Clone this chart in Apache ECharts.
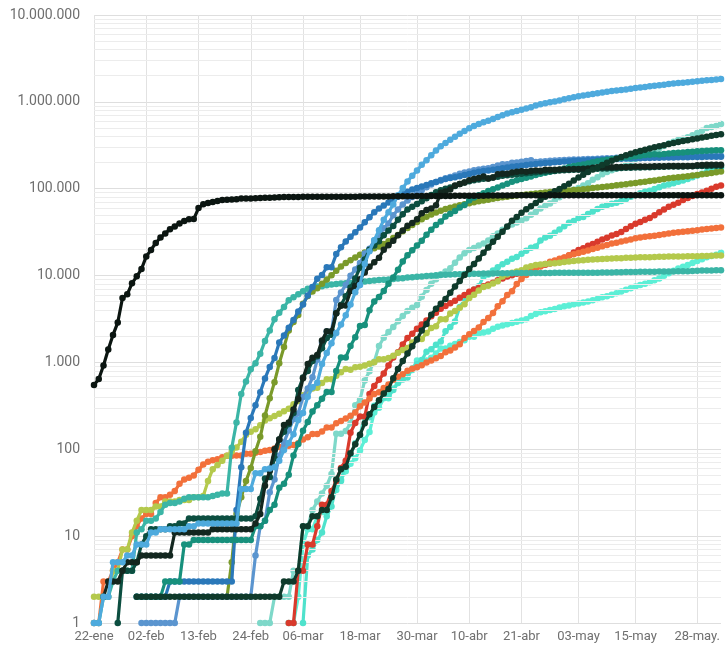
<!DOCTYPE html>
<html>
<head>
<meta charset="utf-8">
<script src="https://cdn.jsdelivr.net/npm/echarts@6/dist/echarts.min.js"></script>
<style>
  html, body { margin: 0; padding: 0; background: #ffffff; }
  #chart { width: 726px; height: 646px; }
</style>
</head>
<body>
<div id="chart"></div>
<script>
// Cumulative confirmed COVID-19 cases, log scale, 22-ene .. 02-jun 2020

const firstDay = Date.UTC(2020, 0, 22);
const dayCount = 133;
const monthAbbr = ['ene', 'feb', 'mar', 'abr', 'may', 'jun', 'jul', 'ago', 'sep', 'oct', 'nov', 'dic'];

// Labelled dates on the horizontal axis
const tickLabels = ['22-ene', '02-feb', '13-feb', '24-feb', '06-mar', '18-mar',
  '30-mar', '10-abr', '21-abr', '03-may', '15-may', '28-may.'];

// Labelled powers of ten on the vertical axis
const yTicks = [1, 10, 100, 1000, 10000, 100000, 1000000, 10000000];

// Each country: first date with cases, then one cumulative value per day
const chinaStart = '22-ene';
const china = [548, 643, 920, 1406, 2075, 2877, 5509, 6087, 8141, 9802,
  11891, 16630, 19716, 23707, 27440, 30587, 34110, 36814, 39829, 42354, 44386, 44759, 59895, 66358, 68413, 70513, 72434, 74211, 74619, 75077, 75550, 77001, 77022, 77241, 77754, 78166, 78600, 78928, 79356,
  79932, 80136, 80261, 80386, 80537, 80690, 80770, 80823, 80860, 80887, 80921, 80932, 80945, 80977, 81003, 81033, 81058, 81102, 81156, 81250, 81305, 81435, 81498, 81591, 81661, 81782, 81897, 81999, 82122, 82198, 82279,
  82361, 82432, 82511, 82543, 82602, 82665, 82718, 82809, 82883, 82941, 82987, 83134, 83213, 83306, 83356, 83403, 83760, 83787, 83805, 83817, 83853, 83868, 83884, 83899, 83909, 83912, 83918, 83940, 83944, 83956,
  83959, 83959, 83964, 83966, 83968, 83970, 83975, 83976, 83990, 84010, 84011, 84018, 84024, 84029, 84038, 84044, 84054, 84063, 84063, 84063, 84081, 84084, 84095, 84102, 84103, 84106, 84106, 84106, 84123, 84128, 84146,
  84154, 84159];

const usaStart = '22-ene';
const usa = [1, 1, 2, 2, 5, 5, 5, 6, 6, 8,
  8, 8, 11, 11, 12, 12, 12, 12, 12, 12, 13, 13, 14, 14, 14, 14, 14, 14, 14, 14, 14, 35, 35, 35, 53, 53, 59, 60, 62,
  74, 98, 118, 149, 217, 262, 402, 518, 583, 959, 1281, 1663, 2179, 2726, 3499, 4632, 6421, 7786, 13680, 19101, 25493, 33276, 43847, 53740, 65778, 83836, 101657, 121465, 140909, 161831, 188172,
  213242, 243622, 275367, 308650, 336802, 366317, 397121, 428654, 462780, 496535, 526396, 555313, 580619, 607670, 636350, 667592, 699706, 732197, 759086, 784326, 811865, 840351, 869170, 905358, 938154, 965785, 988197, 1012582, 1039909, 1069424,
  1103461, 1132539, 1158040, 1180375, 1204351, 1229331, 1257023, 1283929, 1309550, 1329260, 1347881, 1369376, 1390406, 1417774, 1442824, 1467820, 1486757, 1508308, 1528568, 1551853, 1577147, 1600937, 1622612, 1643499, 1662302, 1680913, 1699176, 1721750, 1746019, 1770165, 1790191,
  1811020, 1831821];

const japanStart = '22-ene';
const japan = [2, 2, 2, 2, 4, 4, 7, 7, 11, 15,
  20, 20, 20, 22, 22, 25, 25, 25, 26, 26, 26, 28, 28, 29, 43, 59, 66, 74, 84, 94, 105, 122, 147, 159, 170, 189, 214, 228, 241,
  256, 274, 293, 331, 360, 420, 461, 502, 511, 581, 639, 639, 701, 773, 839, 825, 878, 889, 924, 963, 1007, 1086, 1086, 1128, 1193, 1291, 1387, 1468, 1693, 1866, 1866,
  2178, 2495, 2617, 3139, 3139, 3654, 3906, 4257, 4667, 5530, 6005, 6748, 7370, 7645, 8100, 8626, 9787, 10296, 10797, 11135, 11512, 12368, 12829, 13231, 13441, 13614, 13736, 13895, 14088, 14305,
  14483, 14672, 14877, 15057, 15231, 15354, 15463, 15547, 15649, 15747, 15798, 15874, 16024, 16079, 16193, 16237, 16285, 16305, 16367, 16424, 16513, 16536, 16550, 16581, 16623, 16651, 16683, 16719, 16804, 16850, 16930,
  16986, 17000];

const koreaStart = '22-ene';
const korea = [1, 1, 2, 2, 3, 4, 4, 4, 4, 11,
  12, 15, 15, 16, 19, 23, 24, 24, 25, 27, 28, 28, 28, 28, 28, 29, 30, 31, 31, 104, 204, 433, 602, 833, 977, 1261, 1766, 2337, 3150,
  3736, 4335, 5186, 5621, 6088, 6593, 7041, 7314, 7478, 7513, 7755, 7869, 7979, 8086, 8162, 8236, 8320, 8413, 8565, 8652, 8799, 8897, 8961, 9037, 9137, 9241, 9332, 9478, 9583, 9661, 9786,
  9887, 9976, 10062, 10156, 10237, 10284, 10331, 10384, 10423, 10450, 10480, 10512, 10537, 10564, 10591, 10613, 10635, 10653, 10661, 10674, 10683, 10694, 10702, 10708, 10718, 10728, 10738, 10752, 10761, 10765,
  10774, 10780, 10793, 10801, 10804, 10806, 10810, 10822, 10840, 10874, 10909, 10936, 10962, 10991, 11018, 11037, 11050, 11065, 11078, 11110, 11122, 11142, 11165, 11190, 11206, 11225, 11265, 11344, 11402, 11441, 11468,
  11503, 11541];

const singaporeStart = '22-ene';
const singapore = [1, 1, 3, 3, 4, 5, 7, 7, 10, 13,
  16, 18, 18, 24, 28, 28, 30, 33, 40, 45, 47, 50, 58, 67, 72, 75, 77, 81, 84, 84, 85, 85, 89, 89, 91, 93, 96, 98, 102,
  106, 108, 110, 112, 117, 130, 138, 150, 150, 160, 178, 178, 200, 212, 226, 243, 266, 313, 345, 385, 432, 455, 509, 558, 631, 683, 732, 802, 844, 879, 926,
  1000, 1049, 1114, 1189, 1309, 1375, 1481, 1623, 1910, 2108, 2299, 2532, 2918, 3252, 3699, 4427, 5050, 5992, 6588, 8014, 9125, 10141, 11178, 12075, 12693, 13624, 14423, 14951, 15641, 16169,
  17101, 17548, 18205, 18778, 19410, 20198, 20939, 21707, 22460, 23336, 23822, 24671, 25346, 26098, 26891, 27356, 28038, 28343, 28794, 29364, 29812, 30426, 31068, 31616, 31960, 32343, 32876, 33249, 33860, 34366, 34884,
  35292, 35836];

const franceStart = '24-ene';
const france = [2, 3, 3, 3, 4, 5, 5, 5,
  6, 6, 6, 6, 6, 6, 6, 11, 11, 11, 11, 11, 11, 11, 11, 12, 12, 12, 12, 12, 12, 12, 12, 12, 14, 18, 38, 57, 100,
  130, 191, 204, 288, 380, 656, 957, 1134, 1217, 1792, 2289, 2289, 3672, 4480, 4513, 6650, 7652, 9043, 10871, 12612, 14282, 16018, 19856, 22304, 25233, 29155, 32964, 37575, 40174, 44550, 52128,
  56989, 59105, 64338, 89953, 92839, 98010, 109069, 112950, 117749, 124869, 129654, 132591, 137875, 131361, 134582, 147091, 149130, 149149, 154188, 156480, 159297, 156921, 159952, 161644, 161488, 165093, 165764, 165842, 166543, 167299,
  167305, 168518, 168925, 169583, 170694, 174224, 174918, 176202, 176782, 177094, 177547, 178349, 178184, 178994, 179630, 179630, 179693, 180051, 180933, 181700, 181951, 182036, 182709, 182847, 182913, 183067, 182722, 186364, 186924, 188752, 188450,
  189009, 189220];

const germanyStart = '27-ene';
const germany = [1, 4, 4, 4, 5,
  8, 10, 12, 12, 12, 12, 13, 13, 14, 14, 16, 16, 16, 16, 16, 16, 16, 16, 16, 16, 16, 16, 16, 16, 17, 27, 46, 48, 79,
  130, 159, 196, 262, 482, 670, 799, 1040, 1176, 1457, 1908, 2078, 3675, 4585, 5795, 7272, 9257, 12327, 15320, 19848, 22213, 24873, 29056, 32986, 37323, 43938, 50871, 57695, 62095, 66885, 71808,
  77872, 84794, 91159, 96092, 100123, 103374, 107663, 113296, 118181, 122171, 124908, 127854, 130072, 131359, 134753, 137698, 141397, 143342, 145184, 147065, 148291, 150648, 153129, 154999, 156513, 157770, 158758, 159912, 161539, 163009,
  164077, 164967, 165664, 166152, 167007, 168162, 169430, 170588, 171324, 171879, 172576, 173171, 174098, 174478, 175233, 175752, 176369, 176551, 177778, 178473, 179021, 179710, 179986, 180328, 180600, 181200, 181524, 182196, 182922, 183189, 183410,
  183594, 184121];

const italyStart = '31-ene';
const italy = [2,
  2, 2, 2, 2, 2, 2, 3, 3, 3, 3, 3, 3, 3, 3, 3, 3, 3, 3, 3, 3, 20, 62, 155, 229, 322, 453, 655, 888, 1128,
  1694, 2036, 2502, 3089, 3858, 4636, 5883, 7375, 9172, 10149, 12462, 12462, 17660, 21157, 24747, 27980, 31506, 35713, 41035, 47021, 53578, 59138, 63927, 69176, 74386, 80589, 86498, 92472, 97689, 101739, 105792,
  110574, 115242, 119827, 124632, 128948, 132547, 135586, 139422, 143626, 147577, 152271, 156363, 159516, 162488, 165155, 168941, 172434, 175925, 178972, 181228, 183957, 187327, 189973, 192994, 195351, 197675, 199414, 201505, 203591, 205463,
  207428, 209328, 210717, 211938, 213013, 214457, 215858, 217185, 218268, 219070, 219814, 221216, 222104, 223096, 223885, 224760, 225435, 225886, 226699, 227364, 228006, 228658, 229327, 229858, 230158, 230555, 231139, 231732, 232248, 232664, 232997,
  233197, 233515];

const ukStart = '31-ene';
const uk = [2,
  2, 2, 2, 2, 2, 3, 3, 3, 3, 8, 8, 9, 9, 9, 9, 9, 9, 9, 9, 9, 9, 9, 9, 9, 13, 13, 15, 20, 23,
  36, 40, 51, 85, 115, 163, 206, 273, 321, 382, 456, 456, 798, 1140, 1140, 1543, 1950, 2626, 2689, 3983, 5018, 5683, 6650, 8077, 9529, 11658, 14543, 17089, 19522, 22141, 25150,
  29474, 33718, 38168, 41903, 47806, 51608, 55242, 60733, 65077, 73758, 78991, 84279, 88621, 93873, 98476, 103093, 108692, 114217, 120067, 124743, 129044, 133495, 138078, 143464, 148377, 152840, 157149, 161145, 165221, 171253,
  177454, 182260, 186599, 190584, 194990, 201101, 206715, 211364, 215260, 219183, 223060, 226463, 229705, 233151, 236711, 240161, 243695, 246406, 248818, 248293, 250908, 254195, 257154, 259559, 261184, 265227, 267240, 269127, 271222, 272826, 274762,
  276332, 277985];

const russiaStart = '31-ene';
const russia = [2,
  2, 2, 2, 2, 2, 2, 2, 2, 2, 2, 2, 2, 2, 2, 2, 2, 2, 2, 2, 2, 2, 2, 2, 2, 2, 2, 2, 2, 2,
  2, 3, 3, 3, 4, 13, 13, 17, 17, 20, 20, 28, 45, 59, 63, 90, 114, 147, 199, 253, 306, 367, 438, 495, 658, 840, 1036, 1264, 1534, 1836, 2337,
  2777, 3548, 4149, 4731, 5389, 6343, 7497, 8672, 10131, 11917, 13584, 15770, 18328, 21102, 24490, 27938, 32008, 36793, 42853, 47121, 52763, 57999, 62773, 68622, 74588, 80949, 87147, 93558, 99399, 106498,
  114431, 124054, 134687, 145268, 155370, 165929, 177160, 187859, 198676, 209688, 221344, 232243, 242271, 252245, 262843, 272043, 281752, 290678, 299941, 308705, 317554, 326448, 335882, 344481, 353427, 362342, 370680, 379051, 387623, 396575, 405843,
  414328, 423186];

const spainStart = '01-feb';
const spain = [1, 1, 1, 1, 1, 1, 1, 1, 2, 2, 2, 2, 2, 2, 2, 2, 2, 2, 2, 2, 2, 2, 2, 2, 6, 13, 15, 32, 45,
  84, 120, 165, 222, 259, 400, 500, 673, 1073, 1695, 2277, 2277, 5232, 6391, 7798, 9942, 11748, 13910, 17963, 20410, 25374, 28768, 35136, 39885, 49515, 57786, 65719, 73235, 80110, 87956, 95923,
  104118, 112065, 119199, 126168, 131646, 136675, 141942, 148220, 153222, 158273, 163027, 166831, 170099, 172541, 177644, 184948, 190839, 191726, 198674, 200210, 204178, 208389, 213024, 202990, 205905, 207634, 209465, 210773, 212917, 213435,
  215216, 216582, 217466, 218011, 219329, 220325, 221447, 222857, 223578, 224350, 227436, 228030, 228691, 229540, 230183, 230698, 230698, 231606, 232037, 232555, 233037, 234824, 235290, 235772, 235400, 236259, 236259, 237906, 238564, 239228, 239479,
  239638, 240326];

const iranStart = '19-feb';
const iran = [2, 5, 18, 28, 43, 61, 95, 139, 245, 388, 593,
  978, 1501, 2336, 2922, 3513, 4747, 5823, 6566, 7161, 8042, 9000, 10075, 11364, 12729, 13938, 14991, 16169, 17361, 18407, 19644, 20610, 21638, 23049, 24811, 27017, 29406, 32332, 35408, 38309, 41495, 44605,
  47593, 50468, 53183, 55743, 58226, 60500, 62589, 64586, 66220, 68192, 70029, 71686, 73303, 74877, 76389, 77995, 79494, 80868, 82211, 83505, 84802, 85996, 87026, 88194, 89328, 90481, 91472, 92584, 93657, 94640,
  95646, 96448, 97424, 98647, 99970, 101650, 103135, 104691, 106220, 107603, 109286, 110767, 112725, 114533, 116635, 118392, 120198, 122492, 124603, 126949, 129341, 131652, 133521, 135701, 137724, 139511, 141591, 143849, 146668, 148950, 151466,
  154445, 157562];

const brazilStart = '26-feb';
const brazil = [1, 1, 1, 2,
  2, 2, 2, 4, 4, 13, 13, 20, 25, 31, 38, 52, 151, 151, 162, 200, 321, 372, 621, 793, 1021, 1546, 1924, 2247, 2554, 2985, 3417, 3904, 4256, 4579, 5717,
  6836, 8044, 9056, 10360, 11130, 12161, 14034, 16170, 18092, 19638, 20727, 22192, 23430, 25262, 28320, 30425, 33682, 36658, 38654, 40743, 43079, 45757, 50036, 54043, 59324, 63100, 67446, 73235, 79685, 87187,
  92202, 97100, 101826, 108620, 115455, 126611, 135773, 146894, 156061, 162699, 169594, 178214, 190137, 203165, 220291, 233511, 241080, 255368, 271885, 291579, 310087, 330890, 347398, 363211, 374898, 391222, 411821, 438238, 465166, 498440, 514849,
  526447, 555383];

const chileStart = '03-mar';
const chile = [1, 1, 4, 4, 8, 8, 13, 23, 23, 33, 43, 61, 74, 155, 201, 238, 238, 434, 537, 632, 746, 922, 1142, 1306, 1610, 1909, 2139, 2449, 2738,
  3031, 3404, 3737, 4161, 4471, 4815, 5116, 5546, 5972, 6501, 6927, 7213, 7525, 7917, 8273, 8807, 9252, 9730, 10088, 10507, 10832, 11296, 11812, 12306, 12858, 13331, 13813, 14365, 14885, 16023,
  17008, 18435, 19663, 20643, 22016, 23048, 24581, 25972, 27219, 28866, 30063, 31721, 34381, 37040, 39542, 41428, 43781, 46059, 49579, 53617, 57581, 61857, 65393, 69102, 73997, 77961, 82289, 86943, 90638, 94858, 99688,
  105159, 108686];

const argentinaStart = '03-mar';
const argentina = [1, 1, 2, 8, 12, 12, 17, 19, 19, 31, 34, 45, 56, 68, 79, 97, 128, 158, 266, 301, 387, 387, 502, 589, 690, 745, 820, 1054, 1054,
  1054, 1133, 1265, 1451, 1451, 1554, 1628, 1715, 1795, 1975, 1975, 2142, 2208, 2277, 2443, 2571, 2669, 2758, 2839, 2941, 3031, 3144, 3435, 3607, 3780, 3892, 4003, 4127, 4285, 4428,
  4532, 4681, 4783, 4887, 5020, 5208, 5371, 5611, 5776, 6034, 6265, 6563, 6879, 7134, 7479, 7805, 8068, 8371, 8809, 9283, 9931, 10649, 11353, 12076, 12628, 13228, 13933, 14702, 15419, 16214, 16851,
  17415, 18319];

const peruStart = '06-mar';
const peru = [1, 6, 7, 9, 11, 17, 22, 38, 43, 71, 86, 117, 145, 234, 234, 318, 363, 395, 416, 480, 580, 635, 671, 852, 950, 1065,
  1323, 1414, 1595, 1746, 2281, 2561, 2954, 4342, 5256, 5897, 6848, 7519, 9784, 10303, 11475, 12491, 13489, 14420, 15628, 16325, 17837, 19250, 20914, 21648, 25331, 27517, 28699, 31190, 33931, 36976,
  40459, 42534, 45928, 47372, 51189, 54817, 58526, 61847, 65015, 67307, 68822, 72059, 76306, 80604, 84495, 88541, 92273, 94933, 99483, 104020, 108769, 111698, 115754, 119959, 123979, 129751, 135905, 141779, 148285, 155671, 164476,
  170039, 174884];

// Date categories for every day on the axis
const categories = [];
for (let i = 0; i < dayCount; i++) {
  const d = new Date(firstDay + i * 86400000);
  categories.push(String(d.getUTCDate()).padStart(2, '0') + '-' + monthAbbr[d.getUTCMonth()]);
}

// Drawing order: later entries sit on top
const countries = [
  { name: 'Argentina', start: argentinaStart, values: argentina, color: '#5cefd6' },
  { name: 'Perú', start: peruStart, values: peru, color: '#4fe2cc' },
  { name: 'Brasil', start: brazilStart, values: brazil, color: '#7ed8c9' },
  { name: 'Chile', start: chileStart, values: chile, color: '#d93a2c' },
  { name: 'Singapur', start: singaporeStart, values: singapore, color: '#f2703b' },
  { name: 'Japón', start: japanStart, values: japan, color: '#b4c94c' },
  { name: 'Corea del Sur', start: koreaStart, values: korea, color: '#3bb5a6' },
  { name: 'Irán', start: iranStart, values: iran, color: '#7a9a2a' },
  { name: 'España', start: spainStart, values: spain, color: '#5b95cf' },
  { name: 'Italia', start: italyStart, values: italy, color: '#2a78b9' },
  { name: 'Reino Unido', start: ukStart, values: uk, color: '#17907c' },
  { name: 'Alemania', start: germanyStart, values: germany, color: '#0c4e40' },
  { name: 'Francia', start: franceStart, values: france, color: '#13271f' },
  { name: 'Estados Unidos', start: usaStart, values: usa, color: '#4eaadd' },
  { name: 'Rusia', start: russiaStart, values: russia, color: '#0f3a2b' },
  { name: 'China', start: chinaStart, values: china, color: '#0b1511' }
];

function padToAxis(start, values) {
  const offset = categories.indexOf(start);
  const out = new Array(offset).fill(null).concat(values);
  while (out.length < dayCount) out.push(null);
  return out.slice(0, dayCount);
}

// Light grid lines at 2..9 times each power of ten
const minorGridValues = [];
for (let p = 0; p < 7; p++) {
  for (let m = 2; m <= 9; m++) minorGridValues.push(m * Math.pow(10, p));
}

const tickSet = tickLabels.map(t => t.replace(/\.$/, ''));
const isTick = (idx, value) => tickSet.indexOf(value) !== -1;

function thousands(v) {
  return String(Math.round(v)).replace(/\B(?=(\d{3})+(?!\d))/g, '.');
}

const series = [{
  name: 'grid',
  type: 'line',
  data: [],
  silent: true,
  z: 0,
  markLine: {
    silent: true,
    symbol: 'none',
    animation: false,
    label: { show: false },
    lineStyle: { color: '#ececec', width: 1, type: 'solid' },
    data: minorGridValues.map(v => ({ yAxis: v }))
  }
}].concat(countries.map((c, i) => ({
  name: c.name,
  type: 'line',
  data: padToAxis(c.start, c.values),
  color: c.color,
  z: 2 + i,
  symbol: 'circle',
  symbolSize: 6.5,
  showSymbol: true,
  showAllSymbol: true,
  connectNulls: false,
  lineStyle: { width: 3.2, color: c.color },
  itemStyle: { color: c.color },
  emphasis: { disabled: true }
})));

const chart = echarts.init(document.getElementById('chart'), null, { renderer: 'canvas' });
chart.setOption({
  animation: false,
  backgroundColor: '#ffffff',
  grid: { left: 94, right: 5, top: 15, bottom: 23, containLabel: false },
  xAxis: {
    type: 'category',
    data: categories,
    boundaryGap: false,
    axisLine: { show: false },
    axisTick: { show: false },
    axisLabel: {
      interval: isTick,
      color: '#6f6f6f',
      fontFamily: 'Roboto',
      fontSize: 13,
      margin: 7,
      formatter: v => tickLabels[tickSet.indexOf(v)]
    },
    splitLine: { show: true, interval: isTick, lineStyle: { color: '#e2e2e2', width: 1 } }
  },
  yAxis: {
    type: 'log',
    logBase: 10,
    min: yTicks[0],
    max: yTicks[yTicks.length - 1],
    axisLine: { show: false },
    axisTick: { show: false },
    axisLabel: {
      color: '#6f6f6f',
      fontFamily: 'Roboto',
      fontSize: 14,
      margin: 14,
      formatter: v => thousands(v)
    },
    splitLine: { show: true, lineStyle: { color: '#dedede', width: 1 } }
  },
  series: series
});
</script>
</body>
</html>
